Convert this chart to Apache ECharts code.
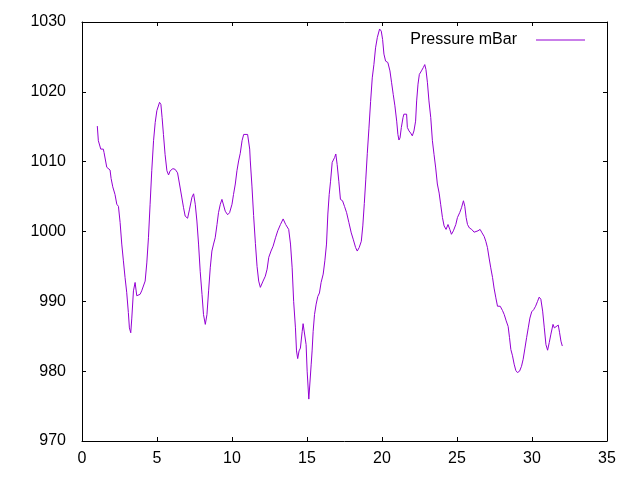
<!DOCTYPE html>
<html>
<head>
<meta charset="utf-8">
<script src="https://cdn.jsdelivr.net/npm/echarts@6/dist/echarts.min.js"></script>
<style>
  html, body { margin: 0; padding: 0; background: #fff; }
  #chart { width: 640px; height: 480px; }
</style>
</head>
<body>
<div id="chart"></div>
<script>
// values (day, mBar)
var days = [
  1.02, 1.09, 1.25, 1.42, 1.47, 1.65, 1.87, 1.94, 2.05, 2.2, 2.32, 2.43, 2.54, 2.65, 2.76, 2.87, 2.98,
  3.09, 3.16, 3.25, 3.32, 3.43, 3.54, 3.65, 3.87, 3.98, 4.1, 4.21, 4.32, 4.43, 4.54, 4.65, 4.77, 4.88, 4.99,
  5.17, 5.26, 5.34, 5.43, 5.54, 5.66, 5.77, 5.88, 6.06, 6.21, 6.37, 6.5, 6.66, 6.77, 6.88, 7.04, 7.17, 7.33,
  7.44, 7.55, 7.66, 7.77, 7.88, 8.0, 8.1, 8.22, 8.33, 8.44, 8.55, 8.66, 8.77, 8.88, 9.0, 9.1, 9.22, 9.33,
  9.44, 9.55, 9.71, 9.84, 10.0, 10.1, 10.22, 10.33, 10.44, 10.55, 10.67, 10.78, 10.89, 11.04, 11.18, 11.22,
  11.33, 11.44, 11.56, 11.67, 11.78, 11.89, 12.07, 12.22, 12.34, 12.45, 12.6, 12.74, 12.9, 13.05, 13.23,
  13.41, 13.52, 13.58, 13.78, 13.85, 13.9, 14.01, 14.11, 14.23, 14.3, 14.38, 14.47, 14.56, 14.68, 14.74,
  14.85, 14.94, 15.01, 15.12, 15.18, 15.28, 15.34, 15.41, 15.5, 15.61, 15.72, 15.83, 15.94, 16.08, 16.19,
  16.3, 16.39, 16.48, 16.57, 16.68, 16.84, 16.92, 17.01, 17.12, 17.23, 17.37, 17.5, 17.64, 17.79, 17.95,
  18.08, 18.24, 18.35, 18.48, 18.62, 18.72, 18.82, 18.92, 19.02, 19.13, 19.24, 19.35, 19.46, 19.57, 19.69,
  19.84, 19.95, 20.04, 20.13, 20.24, 20.39, 20.53, 20.64, 20.75, 20.86, 20.98, 21.06, 21.13, 21.2, 21.29,
  21.4, 21.46, 21.64, 21.69, 21.8, 21.91, 22.02, 22.13, 22.24, 22.31, 22.4, 22.49, 22.63, 22.76, 22.85,
  22.93, 23.03, 23.13, 23.25, 23.36, 23.47, 23.58, 23.69, 23.81, 23.91, 24.03, 24.14, 24.27, 24.4, 24.52,
  24.63, 24.76, 24.92, 25.03, 25.18, 25.3, 25.43, 25.52, 25.61, 25.7, 25.83, 25.98, 26.14, 26.27, 26.4,
  26.54, 26.67, 26.81, 26.92, 27.03, 27.14, 27.25, 27.37, 27.47, 27.59, 27.7, 27.88, 28.03, 28.15, 28.28,
  28.41, 28.5, 28.59, 28.7, 28.81, 28.92, 29.03, 29.17, 29.3, 29.41, 29.53, 29.64, 29.75, 29.86, 29.98,
  30.11, 30.24, 30.37, 30.48, 30.59, 30.71, 30.82, 30.93, 31.04, 31.15, 31.26, 31.4, 31.49, 31.6, 31.75,
  31.84, 31.93, 32.02
];
var pressure = [
  1015.1, 1013.0, 1011.8, 1011.8, 1011.3, 1009.2, 1008.8, 1007.6, 1006.4, 1005.3, 1003.9, 1003.6, 1001.3, 998.2, 995.8, 993.4, 991.3,
  988.4, 986.2, 985.5, 987.6, 991.5, 992.7, 990.8, 991.0, 991.5, 991.3, 992.9, 995.5, 999.1, 1003.9, 1008.7, 1013.0, 1015.6, 1017.3,
  1018.5, 1018.2, 1016.3, 1013.9, 1011.0, 1008.7, 1008.1, 1008.7, 1009.0, 1008.9, 1008.4, 1006.8, 1004.8, 1003.4, 1002.2, 1001.9, 1003.2, 1004.9,
  1005.4, 1003.9, 1001.5, 998.2, 994.3, 991.0, 988.1, 986.7, 988.1, 991.5, 994.8, 997.2, 998.2, 999.1, 1001.0, 1002.7, 1003.9, 1004.6,
  1004.5, 1002.9, 1002.4, 1002.7, 1003.9, 1005.3, 1006.8, 1008.7, 1010.1, 1011.2, 1013.0, 1013.9, 1014.1, 1013.9, 1011.8, 1010.1,
  1006.5, 1002.3, 998.3, 995.0, 992.9, 992.0, 992.9, 993.6, 994.6, 996.3, 997.2, 997.9, 999.1, 1000.1, 1001.0,
  1001.8, 1001.8, 1001.0, 1000.3, 1000.1, 998.2, 994.8, 990.0, 986.2, 982.9, 981.8, 982.9, 983.3, 985.7, 986.8,
  986.8, 983.8, 980.0, 976.0, 976.2, 981.0, 982.9, 985.7, 988.1, 989.6, 990.7, 991.2, 992.7, 993.9, 995.8,
  998.2, 1002.5, 1005.3, 1007.2, 1009.9, 1010.6, 1011.1, 1009.6, 1007.2, 1004.6, 1004.4, 1003.6, 1002.7, 1001.3, 999.8,
  998.9, 997.7, 997.2, 997.7, 998.6, 1000.8, 1004.0, 1007.5, 1011.2, 1014.8, 1018.6, 1022.0, 1023.9, 1026.3, 1027.8,
  1029.0, 1028.7, 1027.5, 1025.4, 1024.4, 1024.2, 1023.0, 1021.3, 1019.6, 1018.0, 1015.8, 1013.9, 1013.1, 1013.4, 1014.9,
  1016.3, 1016.8, 1016.8, 1014.9, 1014.4, 1014.1, 1013.7, 1014.4, 1015.8, 1018.7, 1021.1, 1022.5, 1023.0, 1023.5, 1023.9,
  1023.2, 1021.3, 1018.7, 1016.3, 1013.0, 1011.0, 1009.1, 1006.8, 1005.5, 1003.9, 1002.0, 1000.8, 1000.3, 1001.0, 1000.3,
  999.6, 1000.1, 1001.0, 1002.0, 1002.7, 1003.4, 1004.4, 1003.6, 1002.0, 1001.0, 1000.5, 1000.3, 999.9, 1000.1, 1000.1,
  1000.3, 999.8, 999.3, 998.6, 997.7, 996.2, 994.8, 993.4, 991.9, 990.5, 989.3, 989.3, 988.7, 988.1, 987.2,
  986.4, 984.8, 983.1, 982.2, 981.0, 980.1, 979.8, 980.0, 980.7, 981.7, 983.3, 984.8, 986.2, 987.6, 988.5,
  988.8, 989.3, 990.0, 990.6, 990.3, 988.6, 986.2, 983.8, 983.0, 984.1, 985.3, 986.7, 986.2, 986.4, 986.6,
  985.5, 984.3, 983.6
];
var seriesName = 'Pressure mBar';
var xMin = 0, xMax = 35, xStep = 5;
var yMin = 970, yMax = 1030, yStep = 10;

var font = 'Liberation Sans, Arial, sans-serif';
var ink = '#000';
var lineColor = '#9400D3';

var points = days.map(function (d, i) { return [d, pressure[i]]; });

var chart = echarts.init(document.getElementById('chart'), null, { renderer: 'canvas' });

function axis(type, pos, showLabel, extra) {
  var a = {
    type: 'value', position: pos,
    min: type === 'x' ? xMin : yMin,
    max: type === 'x' ? xMax : yMax,
    interval: type === 'x' ? xStep : yStep,
    axisLine: { show: true, onZero: false, lineStyle: { color: ink, width: 1 } },
    axisTick: { show: true, inside: true, length: 4, lineStyle: { color: ink, width: 1 } },
    axisLabel: { show: showLabel, color: ink, fontFamily: font, fontSize: 16,
      formatter: function (v) { return String(v); } },
    splitLine: { show: false }
  };
  for (var k in extra) a.axisLabel[k] = extra[k];
  return a;
}

chart.setOption({
  animation: false,
  backgroundColor: '#fff',
  grid: { left: 82, right: 33, top: 22, bottom: 39 },
  legend: {
    show: true, right: 50, top: 27, align: 'right',
    itemWidth: 49, itemHeight: 1,
    textStyle: { color: ink, fontFamily: font, fontSize: 16, padding: [0, 14, 0, 0] },
    data: [{ name: seriesName, icon: 'rect', itemStyle: { color: lineColor } }]
  },
  xAxis: [
    axis('x', 'bottom', true, { margin: 10 }),
    axis('x', 'top', false, {})
  ],
  yAxis: [
    axis('y', 'left', true, { margin: 16 }),
    axis('y', 'right', false, {})
  ],
  series: [{
    name: seriesName, type: 'line', data: points,
    showSymbol: false, symbol: 'none',
    lineStyle: { color: lineColor, width: 1 },
    itemStyle: { color: lineColor }
  }]
});
</script>
</body>
</html>
